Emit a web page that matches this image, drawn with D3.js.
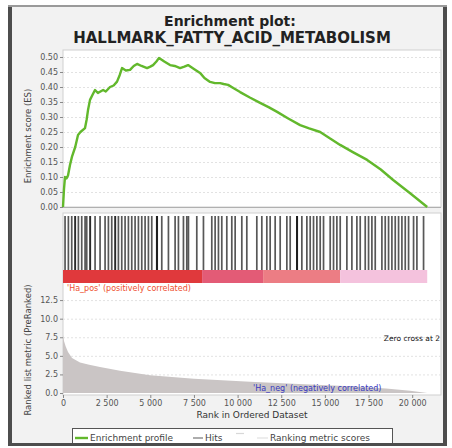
<html>
<head>
<meta charset="utf-8">
<title>Enrichment plot</title>
<style>
  body { margin: 0; background: #fff; }
  text { font-family: "DejaVu Sans", sans-serif; }
</style>
</head>
<body>
<script src="https://cdn.jsdelivr.net/npm/d3@7"></script>
<script>
    // running enrichment score
    var esRank = [0, 57, 115, 200, 287, 400, 516, 700, 860, 1000, 1261, 1350, 1433, 1547, 1700, 1834, 2000, 2120, 2300, 2450,
        2693, 2900, 3095, 3250, 3381, 3600, 3840, 4050, 4241, 4500, 4814, 5000, 5158, 5350, 5501, 5800, 6132, 6400, 6705, 6950,
        7163, 7500, 7851, 8100, 8424, 8700, 8997, 9200, 9456, 9800, 10143, 10700, 11289, 11800, 12264, 12900, 13582, 14100,
        14728, 15300, 15874, 16600, 17421, 18200, 18911, 19900, 20860];
    var esValue = [0, 0.06, 0.10, 0.095, 0.105, 0.14, 0.168, 0.20, 0.24, 0.25, 0.263, 0.29, 0.323, 0.357, 0.375, 0.39, 0.38, 0.384, 0.39, 0.385,
        0.40, 0.405, 0.418, 0.44, 0.463, 0.455, 0.457, 0.47, 0.477, 0.47, 0.463, 0.468, 0.473, 0.485, 0.497, 0.485, 0.473, 0.47, 0.463, 0.468,
        0.473, 0.46, 0.447, 0.43, 0.417, 0.413, 0.413, 0.41, 0.407, 0.395, 0.383, 0.365, 0.347, 0.332, 0.317, 0.295, 0.273, 0.262,
        0.25, 0.228, 0.207, 0.183, 0.157, 0.125, 0.09, 0.045, 0];

    // positions of gene set members in the ranked list
    var hitRanks = [115, 306, 497, 688, 700, 879, 1070, 1261, 1356, 1547, 1560, 1834, 2120, 2407, 2598, 2789, 2980, 2995,
        3171, 3362, 3553, 3744, 3935, 4126, 4317, 4508, 4699, 4890, 5081, 5367, 5380, 5392, 5654, 6036, 6418, 6609, 6896,
        7087, 7182, 7660, 8042, 8519, 8710, 8901, 9092, 9379, 9665, 9857, 10239, 10525, 11098, 11385, 11671, 11862, 12149,
        12436, 12818, 13009, 13391, 13400, 13412, 13677, 13964, 14155, 14346, 14537, 14728, 14919, 15301, 15492, 15683,
        15874, 16256, 16543, 16829, 17020, 17307, 17498, 17689, 17880, 18262, 18453, 18644, 18835, 19026, 19217, 19408,
        19599, 19790, 20076, 20267, 20648];

    // ranked list metric
    var metricRank = [0, 57, 150, 287, 516, 974, 1500, 2120, 3266, 4986, 7500, 10716, 13500, 16447, 18500, 19885, 20860];
    var metricValue = [7.8, 7.0, 6.3, 5.5, 4.7, 4.1, 3.8, 3.5, 3.0, 2.4, 1.9, 1.5, 1.2, 0.9, 0.6, 0.3, 0];

    // heat bar segments (rank boundaries)
    var bandEdges = [0, 7966, 11461, 15874, 20860];
    var bandColors = ["#e0393c", "#e35b76", "#ec7d84", "#f4c2dd"];

    var esTicks = [0, 0.05, 0.1, 0.15, 0.2, 0.25, 0.3, 0.35, 0.4, 0.45, 0.5];
    var metricTicks = [0, 2.5, 5, 7.5, 10, 12.5];
    var rankTicks = [0, 2500, 5000, 7500, 10000, 12500, 15000, 17500, 20000];

    var width = 452, height = 448;
    var svg = d3.select('body').append('svg')
            .attr('width', width)
            .attr('height', height);

    // frame
    svg.append('rect').attr('x', 8).attr('y', 5).attr('width', 439).attr('height', 441).attr('fill', '#f2f2f2');

    var x = d3.scaleLinear().domain([0, 21650]).range([63, 441]);
    var yES = d3.scaleLinear().domain([0, 0.5233]).range([207, 50]);
    var yM = d3.scaleLinear().domain([-0.27, 14.8]).range([395, 283]);

    // panels
    svg.append('rect').attr('x', 63).attr('y', 50).attr('width', 378).attr('height', 157)
        .attr('fill', '#fff').attr('stroke', '#cfcfcf');
    svg.append('rect').attr('x', 63).attr('y', 213).attr('width', 378).attr('height', 182)
        .attr('fill', '#fff').attr('stroke', '#cfcfcf');

    // grid lines
    svg.append('g').selectAll('line').data(esTicks).enter().append('line')
        .attr('x1', 63).attr('x2', 441)
        .attr('y1', function (d) { return yES(d) + 0.5; })
        .attr('y2', function (d) { return yES(d) + 0.5; })
        .attr('stroke', function (d) { return d === 0 ? '#b0b0b0' : '#e2e2e2'; })
        .attr('stroke-dasharray', function (d) { return d === 0 ? null : '2,2'; });
    svg.append('g').selectAll('line').data(metricTicks.slice(1)).enter().append('line')
        .attr('x1', 63).attr('x2', 441)
        .attr('y1', function (d) { return yM(d) + 0.5; })
        .attr('y2', function (d) { return yM(d) + 0.5; })
        .attr('stroke', '#e2e2e2').attr('stroke-dasharray', '2,2');

    // metric area
    var metric = metricRank.map(function (r, i) { return [r, metricValue[i]]; });
    svg.append('path').datum(metric)
        .attr('fill', '#cac5c5')
        .attr('d', d3.area()
            .x(function (d) { return x(d[0]); })
            .y0(yM(0))
            .y1(function (d) { return yM(d[1]); }));

    // hits
    svg.append('g').selectAll('rect').data(hitRanks).enter().append('rect')
        .attr('x', function (d) { return x(d) - 0.8; })
        .attr('y', 216)
        .attr('width', 1.7)
        .attr('height', 54)
        .attr('fill', '#111')
        .attr('fill-opacity', 0.7);

    // heat bar
    svg.append('g').selectAll('rect').data(bandColors).enter().append('rect')
        .attr('x', function (d, i) { return x(bandEdges[i]); })
        .attr('y', 270)
        .attr('width', function (d, i) { return x(bandEdges[i + 1]) - x(bandEdges[i]); })
        .attr('height', 13)
        .attr('fill', function (d) { return d; });

    // enrichment profile
    var es = esRank.map(function (r, i) { return [r, esValue[i]]; });
    svg.append('path').datum(es)
        .attr('fill', 'none')
        .attr('stroke', '#62b82c')
        .attr('stroke-width', 2.4)
        .attr('stroke-linejoin', 'round')
        .attr('d', d3.line()
            .x(function (d) { return x(d[0]); })
            .y(function (d) { return yES(d[1]); }));

    // axes
    var loc = d3.formatLocale({decimal: '.', thousands: ' ', grouping: [3], currency: ['', '']});
    var styleAxis = function (g) {
        g.select('.domain').remove();
        g.selectAll('.tick line').attr('stroke', '#888');
        g.selectAll('.tick text').attr('fill', '#555').style('font-size', '8px');
    };
    svg.append('g').attr('transform', 'translate(63,0)')
        .call(d3.axisLeft(yES).tickValues(esTicks).tickFormat(d3.format('.2f')).tickSize(3).tickPadding(2))
        .call(styleAxis);
    svg.append('g').attr('transform', 'translate(63,0)')
        .call(d3.axisLeft(yM).tickValues(metricTicks).tickFormat(d3.format('.1f')).tickSize(3).tickPadding(2))
        .call(styleAxis);
    svg.append('g').attr('transform', 'translate(0,395)')
        .call(d3.axisBottom(x).tickValues(rankTicks).tickFormat(loc.format(',')).tickSize(3).tickPadding(2))
        .call(styleAxis);

    // titles
    svg.append('text').attr('x', 230).attr('y', 26).attr('text-anchor', 'middle')
        .style('font-size', '14px').style('font-weight', 'bold').attr('fill', '#222')
        .text('Enrichment plot:');
    svg.append('text').attr('x', 232).attr('y', 43).attr('text-anchor', 'middle')
        .style('font-size', '15px').style('font-weight', 'bold').attr('fill', '#222')
        .text('HALLMARK_FATTY_ACID_METABOLISM');

    svg.append('text').attr('transform', 'translate(31,136) rotate(-90)').attr('text-anchor', 'middle')
        .style('font-size', '8.5px').attr('fill', '#444').text('Enrichment score (ES)');
    svg.append('text').attr('transform', 'translate(31,350) rotate(-90)').attr('text-anchor', 'middle')
        .style('font-size', '8.5px').attr('fill', '#444').text('Ranked list metric (PreRanked)');
    svg.append('text').attr('x', 252).attr('y', 418).attr('text-anchor', 'middle')
        .style('font-size', '9px').attr('fill', '#333').text('Rank in Ordered Dataset');

    svg.append('text').attr('x', 67).attr('y', 291)
        .style('font-size', '8px').attr('fill', '#ee5030').text("'Ha_pos' (positively correlated)");
    svg.append('text').attr('x', 253).attr('y', 391)
        .style('font-size', '8px').attr('fill', '#3838c0').text("'Ha_neg' (negatively correlated)");
    svg.append('text').attr('x', 440).attr('y', 341).attr('text-anchor', 'end')
        .style('font-size', '7.5px').attr('fill', '#111').text('Zero cross at 2');

    // legend
    var lg = svg.append('g');
    lg.append('rect').attr('x', 72.5).attr('y', 428.5).attr('width', 320).attr('height', 17)
        .attr('fill', '#fff').attr('stroke', '#555');
    lg.append('line').attr('x1', 75).attr('x2', 88).attr('y1', 438).attr('y2', 438)
        .attr('stroke', '#62b82c').attr('stroke-width', 2.4);
    lg.append('text').attr('x', 90).attr('y', 441).style('font-size', '9px').attr('fill', '#444').text('Enrichment profile');
    lg.append('line').attr('x1', 193).attr('x2', 203).attr('y1', 438).attr('y2', 438)
        .attr('stroke', '#777').attr('stroke-width', 1.2);
    lg.append('text').attr('x', 205).attr('y', 441).style('font-size', '9px').attr('fill', '#444').text('Hits');
    lg.append('line').attr('x1', 236).attr('x2', 244).attr('y1', 433.5).attr('y2', 433.5)
        .attr('stroke', '#d8d8d8').attr('stroke-width', 1.2);
    lg.append('line').attr('x1', 257).attr('x2', 268).attr('y1', 438).attr('y2', 438)
        .attr('stroke', '#e2e2e2').attr('stroke-width', 1.2);
    lg.append('text').attr('x', 270).attr('y', 441).style('font-size', '9px').attr('fill', '#444').text('Ranking metric scores');

    // frame borders
    svg.append('line').attr('x1', 8).attr('x2', 447).attr('y1', 6).attr('y2', 6)
        .attr('stroke', '#9a9a9a').attr('stroke-width', 2);
    svg.append('line').attr('x1', 10).attr('x2', 10).attr('y1', 7).attr('y2', 446)
        .attr('stroke', '#4d4d4d').attr('stroke-width', 4);
    svg.append('line').attr('x1', 445).attr('x2', 445).attr('y1', 7).attr('y2', 446)
        .attr('stroke', '#4d4d4d').attr('stroke-width', 4);
    svg.append('line').attr('x1', 8).attr('x2', 447).attr('y1', 444.5).attr('y2', 444.5)
        .attr('stroke', '#4d4d4d').attr('stroke-width', 3);
</script>
</body>
</html>
